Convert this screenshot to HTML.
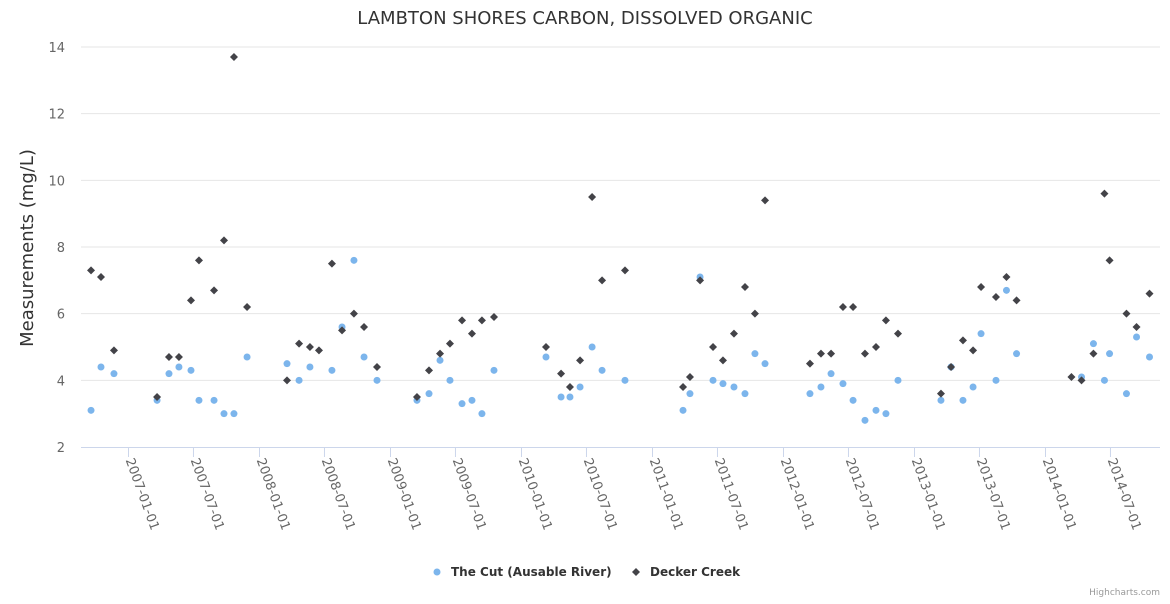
<!DOCTYPE html>
<html><head><meta charset="utf-8"><style>
body{margin:0;background:#fff;font-family:"DejaVu Sans","Liberation Sans",sans-serif}
svg text{font-family:"DejaVu Sans","Liberation Sans",sans-serif}
</style></head><body>
<svg id="chart" width="1170" height="600" xmlns="http://www.w3.org/2000/svg">
<text x="585" y="24" text-anchor="middle" font-size="18" fill="#333">LAMBTON SHORES CARBON, DISSOLVED ORGANIC</text>
<text transform="translate(33,248) rotate(-90)" text-anchor="middle" font-size="18" fill="#333">Measurements (mg/L)</text>
<g id="grid"></g><g id="xaxis"></g><g id="marks"></g>
<g>
<g><circle cx="437" cy="572" r="3.5" fill="#7cb5ec"/><text x="451" y="576" font-size="12" font-weight="bold" fill="#333">The Cut (Ausable River)</text></g>
<g><path d="M636 568 L640 572 L636 576 L632 572Z" fill="#434348"/><text x="650" y="576" font-size="12" font-weight="bold" fill="#333">Decker Creek</text></g>
</g>
<text x="1160" y="595" text-anchor="end" font-size="9" fill="#999">Highcharts.com</text>
</svg>
<script>
const yTicks=[2,4,6,8,10,12,14];
const xTickLabels=["2007-01-01","2007-07-01","2008-01-01","2008-07-01","2009-01-01","2009-07-01","2010-01-01","2010-07-01","2011-01-01","2011-07-01","2012-01-01","2012-07-01","2013-01-01","2013-07-01","2014-01-01","2014-07-01"];
const cutDates=[2006.714,2006.790,2006.889,2007.218,2007.309,2007.385,2007.477,2007.538,2007.653,2007.729,2007.805,2007.905,2008.210,2008.302,2008.385,2008.553,2008.630,2008.721,2008.798,2008.897,2009.202,2009.294,2009.378,2009.454,2009.546,2009.622,2009.698,2009.790,2010.187,2010.302,2010.370,2010.447,2010.539,2010.615,2010.790,2011.233,2011.286,2011.363,2011.462,2011.538,2011.622,2011.706,2011.782,2011.859,2012.202,2012.286,2012.363,2012.454,2012.531,2012.622,2012.706,2012.782,2012.874,2013.202,2013.279,2013.370,2013.447,2013.508,2013.622,2013.702,2013.779,2014.275,2014.366,2014.450,2014.489,2014.618,2014.695,2014.794];
const cutValues=[3.1,4.4,4.2,3.4,4.2,4.4,4.3,3.4,3.4,3.0,3.0,4.7,4.5,4.0,4.4,4.3,5.6,7.6,4.7,4.0,3.4,3.6,4.6,4.0,3.3,3.4,3.0,4.3,4.7,3.5,3.5,3.8,5.0,4.3,4.0,3.1,3.6,7.1,4.0,3.9,3.8,3.6,4.8,4.5,3.6,3.8,4.2,3.9,3.4,2.8,3.1,3.0,4.0,3.4,4.4,3.4,3.8,5.4,4.0,6.7,4.8,4.1,5.1,4.0,4.8,3.6,5.3,4.7];
const deckerDates=[2006.714,2006.790,2006.889,2007.218,2007.309,2007.385,2007.477,2007.538,2007.653,2007.729,2007.805,2007.905,2008.210,2008.302,2008.385,2008.454,2008.553,2008.630,2008.721,2008.798,2008.897,2009.202,2009.294,2009.378,2009.454,2009.546,2009.622,2009.698,2009.790,2010.187,2010.302,2010.370,2010.447,2010.539,2010.615,2010.790,2011.233,2011.286,2011.363,2011.462,2011.538,2011.622,2011.706,2011.782,2011.859,2012.202,2012.286,2012.363,2012.454,2012.531,2012.622,2012.706,2012.782,2012.874,2013.202,2013.279,2013.370,2013.447,2013.508,2013.622,2013.702,2013.779,2014.198,2014.275,2014.366,2014.450,2014.489,2014.618,2014.695,2014.794];
const deckerValues=[7.3,7.1,4.9,3.5,4.7,4.7,6.4,7.6,6.7,8.2,13.7,6.2,4.0,5.1,5.0,4.9,7.5,5.5,6.0,5.6,4.4,3.5,4.3,4.8,5.1,5.8,5.4,5.8,5.9,5.0,4.2,3.8,4.6,9.5,7.0,7.3,3.8,4.1,7.0,5.0,4.6,5.4,6.8,6.0,9.4,4.5,4.8,4.8,6.2,6.2,4.8,5.0,5.8,5.4,3.6,4.4,5.2,4.9,6.8,6.5,7.1,6.4,4.1,4.0,4.8,9.6,7.6,6.0,5.6,6.6];

const NS="http://www.w3.org/2000/svg";
const L=81,R=1160,T=47,B=447;
const x=v=>128.5+(v-2007)*131;
const y=v=>B-(v-2)*(B-T)/12;
function mk(tag,attrs,parent){const e=document.createElementNS(NS,tag);for(const k in attrs)e.setAttribute(k,attrs[k]);parent.appendChild(e);return e;}
const grid=document.getElementById('grid'),xa=document.getElementById('xaxis'),marks=document.getElementById('marks');
yTicks.forEach(t=>{
  if(t>2){const g=mk('line',{x1:L,x2:R,y1:y(t),y2:y(t),stroke:'#e6e6e6'},grid);
  
  }
  const tx=mk('text',{x:65,y:y(t)+5,'text-anchor':'end','font-size':'13',fill:'#666'},grid);
  
  
  tx.textContent=t;
});
const axl=mk('line',{x1:L,x2:R,y1:B+0.5,y2:B+0.5,stroke:'#ccd6eb'},xa);


xTickLabels.forEach(s=>{
  const yr=+s.slice(0,4),half=s.slice(5,7)==='07'?0.496:0;
  const px=x(yr+half);
  const tk=mk('line',{x1:px,x2:px,y1:B,y2:B+10,stroke:'#ccd6eb'},xa);
  
  
  const tx=mk('text',{transform:`translate(${px-3},${B+13}) rotate(70)`,'font-size':'13',fill:'#666'},xa);
  
  
  tx.textContent=s;
});
cutDates.forEach((d,i)=>{
  const c=mk('circle',{cx:x(d),cy:y(cutValues[i]),r:3.5,fill:'#7cb5ec'},marks);
  
  
});
deckerDates.forEach((d,i)=>{
  const cx=x(d),cy=y(deckerValues[i]);
  const p=mk('path',{d:`M${cx} ${cy-4}L${cx+4} ${cy}L${cx} ${cy+4}L${cx-4} ${cy}Z`,fill:'#434348'},marks);
  
  
});
</script>
</body></html>
